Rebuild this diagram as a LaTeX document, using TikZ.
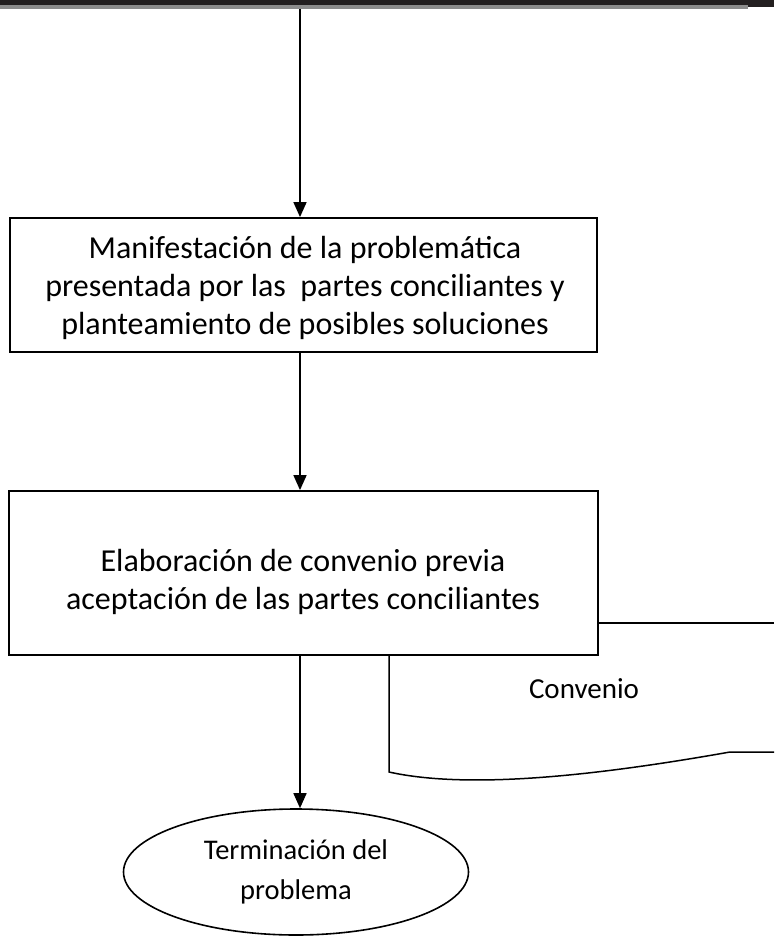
\documentclass[tikz,border=0pt]{standalone}
\usepackage{fontspec}
\setmainfont{Carlito}
\usetikzlibrary{arrows.meta,shapes.geometric}

\definecolor{barra}{HTML}{231F20}
\definecolor{barragris}{HTML}{8C8C8C}

\tikzset{
	caja/.style={draw, line width=1.8pt, inner sep=0pt},
	textocaja/.style={align=center, inner sep=0pt, font=\fontsize{32}{38}\selectfont},
	flecha/.style={line width=1.6pt, -{Triangle[length=15pt,width=13pt]}},
	linea/.style={line width=1.5pt},
	fin/.style={ellipse, draw, line width=1.6pt, inner sep=0pt, align=center, font=\fontsize{28.5}{40}\selectfont},
	etiqueta/.style={inner sep=0pt, font=\fontsize{29}{35}\selectfont},
}

\newcommand{\conecta}[2]{
	\draw[flecha] (#1) -- (#2);
}

\begin{document}
\begin{tikzpicture}[x=1pt,y=-1pt]
\useasboundingbox (0,0) rectangle (774,936);

\fill[barra] (0,0) rectangle (774,5);
\fill[barragris] (0,5) rectangle (748,9);
\fill[barra] (748,5) rectangle (774,7);

\pgfmathsetmacro{\ejeX}{300}
\pgfmathsetmacro{\docIzqX}{389}
\pgfmathsetmacro{\docArriba}{623}
\pgfmathsetmacro{\docAbajo}{772}
\pgfmathsetmacro{\docFinY}{752}

\coordinate (inicio) at (\ejeX,9);

\node[caja, minimum width=587, minimum height=134] (manif) at (303.5,285) {};
\node[textocaja] (manifTxt) at (305,288) {Manifestación de la problemática\\presentada por las~ partes conciliantes y\\planteamiento de posibles soluciones};

\node[caja, minimum width=589, minimum height=164] (elab) at (303.5,573) {};
\node[textocaja] (elabTxt) at (303,582) {Elaboración de convenio previa\\aceptación de las partes conciliantes};

\node[fin, minimum width=345, minimum height=126] (term) at (296,872) {Terminación del\\problema};

\conecta{inicio}{inicio |- manif.north}
\conecta{manif.south -| inicio}{elab.north -| inicio}
\conecta{elab.south -| inicio}{term.north -| inicio}

\coordinate (docDer) at (774,\docArriba);
\coordinate (docIzq) at (\docIzqX,\docAbajo);
\coordinate (docFin) at (774,\docFinY);
\draw[linea] (elab.east |- docDer) -- (docDer);
\draw[linea] (elab.south -| docIzq) -- (docIzq) .. controls (470,790) and (600,775) .. (730,\docFinY) -- (docFin);
\node[etiqueta] (conv) at (584,689) {Convenio};
\end{tikzpicture}
\end{document}
